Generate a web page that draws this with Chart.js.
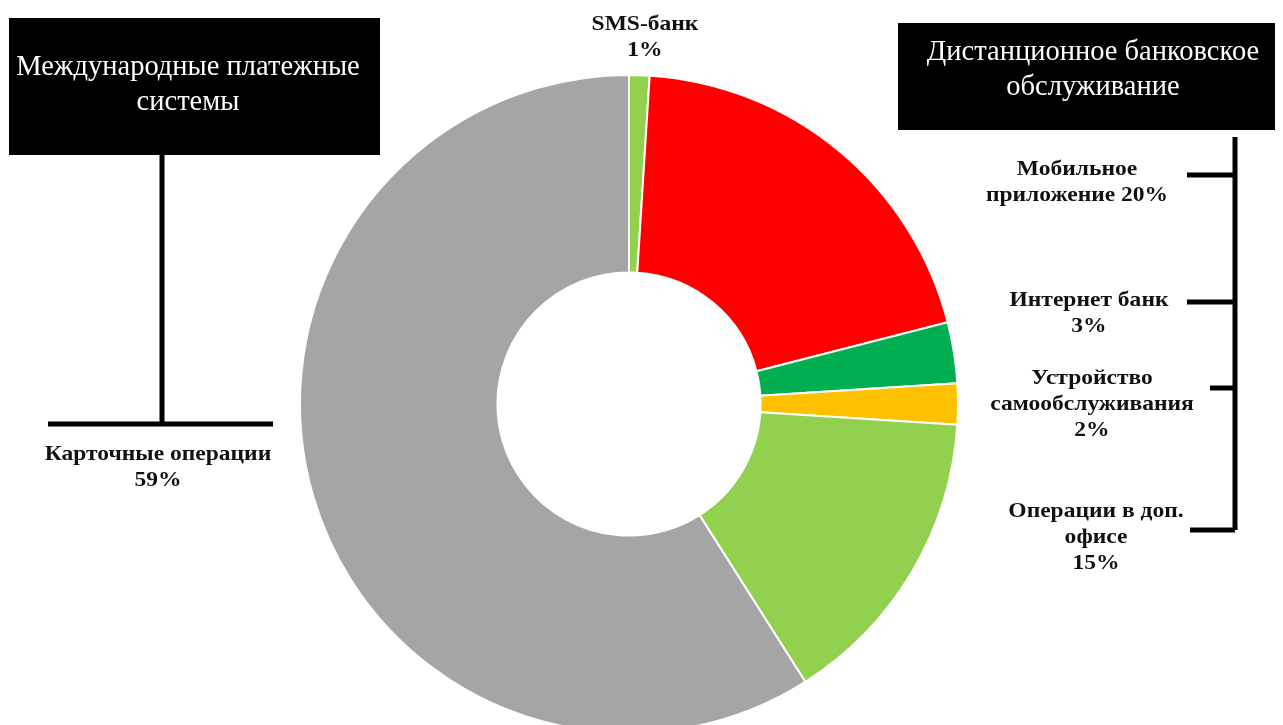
<!DOCTYPE html>
<html>
<head>
<meta charset="utf-8">
<script src="https://cdn.jsdelivr.net/npm/chart.js@4/dist/chart.umd.min.js"></script>
<style>
  html, body { margin: 0; padding: 0; background: #fff; overflow: hidden; }
  #wrap { width: 1283px; height: 725px; overflow: hidden; }
</style>
</head>
<body>
<div id="wrap"><canvas id="chart" width="1283" height="800"></canvas></div>
<script>
// Данные диаграммы
const categories = ["SMS-банк", "Мобильное приложение", "Интернет банк", "Устройство самообслуживания", "Операции в доп. офисе", "Карточные операции"];
const values = [1, 20, 3, 2, 15, 59];
const colors = ["#92d050", "#ff0000", "#00b050", "#ffc000", "#92d050", "#a5a5a5"];
const groupTitles = [["Международные платежные", "системы"], ["Дистанционное банковское", "обслуживание"]];

// Разбивка подписей по строкам (pctInline - процент в той же строке)
const labelLayout = [
  { x: 645, y: 25, lines: ["SMS-банк"], pctInline: false },
  { x: 1077, y: 170, lines: ["Мобильное", "приложение"], pctInline: true },
  { x: 1089, y: 301, lines: ["Интернет банк"], pctInline: false },
  { x: 1092, y: 379, lines: ["Устройство", "самообслуживания"], pctInline: false },
  { x: 1096, y: 512, lines: ["Операции в доп.", "офисе"], pctInline: false },
  { x: 158, y: 455, lines: ["Карточные операции"], pctInline: false }
];

// Рамки, подписи и скобки поверх диаграммы
const decorPlugin = {
  id: "decor",
  afterDraw(chart) {
    const ctx = chart.ctx;
    ctx.save();

    // Черные блоки с заголовками
    ctx.fillStyle = "#000";
    ctx.fillRect(9, 18, 371, 137);
    ctx.fillRect(898, 23, 377, 107);
    ctx.fillStyle = "#fff";
    ctx.font = "28.5px 'Liberation Serif'";
    ctx.textAlign = "center";
    ctx.textBaseline = "middle";
    ctx.fillText(groupTitles[0][0], 188, 68);
    ctx.fillText(groupTitles[0][1], 188, 103);
    ctx.fillText(groupTitles[1][0], 1093, 53);
    ctx.fillText(groupTitles[1][1], 1093, 88);

    // Линии
    ctx.strokeStyle = "#000";
    ctx.lineWidth = 5;
    ctx.beginPath();
    ctx.moveTo(162, 155); ctx.lineTo(162, 424);
    ctx.moveTo(48, 424); ctx.lineTo(273, 424);
    ctx.moveTo(1235, 137); ctx.lineTo(1235, 530);
    ctx.moveTo(1187, 175); ctx.lineTo(1235, 175);
    ctx.moveTo(1187, 302); ctx.lineTo(1235, 302);
    ctx.moveTo(1210, 388); ctx.lineTo(1235, 388);
    ctx.moveTo(1190, 530); ctx.lineTo(1235, 530);
    ctx.stroke();

    // Подписи категорий (шрифт немного растянут по ширине)
    ctx.fillStyle = "#111";
    ctx.font = "bold 21px 'Liberation Serif'";
    labelLayout.forEach((l, i) => {
      const lines = l.lines.slice();
      const pct = values[i] + "%";
      if (l.pctInline) lines[lines.length - 1] += " " + pct;
      else lines.push(pct);
      lines.forEach((t, k) => {
        ctx.save();
        ctx.translate(l.x, l.y + k * 26);
        ctx.scale(1.12, 1);
        ctx.fillText(t, 0, 0);
        ctx.restore();
      });
    });
    ctx.restore();
  }
};

new Chart(document.getElementById("chart"), {
  type: "doughnut",
  data: {
    labels: categories,
    datasets: [{
      data: values,
      backgroundColor: colors,
      borderColor: "#ffffff",
      borderWidth: 2
    }]
  },
  options: {
    responsive: false,
    animation: false,
    cutout: "40%",
    layout: { padding: { left: 299, right: 324, top: 74, bottom: 66 } },
    plugins: {
      legend: { display: false },
      tooltip: { enabled: false }
    }
  },
  plugins: [decorPlugin]
});
</script>
</body>
</html>
